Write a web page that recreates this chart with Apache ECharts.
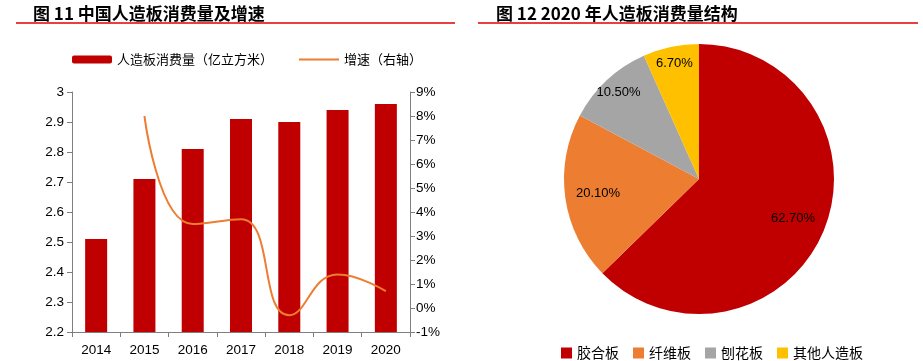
<!DOCTYPE html>
<html><head><meta charset="utf-8">
<script src="https://cdn.jsdelivr.net/npm/echarts@6/dist/echarts.min.js"></script>
<style>html,body{margin:0;padding:0;background:#fff}#c{width:923px;height:361px}</style>
</head><body><div id="c"></div>
<script>
const years = ['2014','2015','2016','2017','2018','2019','2020'];
const consumption = [2.51, 2.71, 2.81, 2.91, 2.90, 2.94, 2.96];
const growth = [null, 8.0, 3.5, 3.7, -0.3, 1.4, 0.7];
const pieNames = ['胶合板','纤维板','刨花板','其他人造板'];
const pieValues = [62.7, 20.1, 10.5, 6.7];
const pieColors = ['#C00000','#ED7D31','#A5A5A5','#FFC000'];
const barName = '人造板消费量（亿立方米）';
const lineName = '增速（右轴）';

const chart = echarts.init(document.getElementById('c'));
const cjk = '"Noto Sans CJK SC", sans-serif';
const latin = '"Liberation Sans", Arial, sans-serif';
const axisCol = '#7f7f7f';

function labelData(showIdx) {
  return pieNames.map((n, i) => ({
    name: n, value: pieValues[i],
    label: { show: showIdx.includes(i) }
  }));
}

const option = {
  animation: false,
  title: [
    { text: '图 11 中国人造板消费量及增速', left: 28, top: 0,
      textStyle: { fontFamily: cjk, fontSize: 17, fontWeight: 'bold', color: '#000' } },
    { text: '图 12 2020 年人造板消费量结构', left: 491, top: 0,
      textStyle: { fontFamily: cjk, fontSize: 17, fontWeight: 'bold', color: '#000' } }
  ],
  graphic: [
    { type: 'line', shape: { x1: 16, y1: 23, x2: 455, y2: 23 }, style: { stroke: '#E00000', lineWidth: 1.5 } },
    { type: 'line', shape: { x1: 478, y1: 23, x2: 918, y2: 23 }, style: { stroke: '#E00000', lineWidth: 1.5 } }
  ],
  legend: [
    { left: 67, top: 48, itemWidth: 40, itemHeight: 8, itemGap: 25,
      data: [barName, { name: lineName, itemStyle: { opacity: 0 } }],
      textStyle: { fontFamily: cjk, fontSize: 13, color: '#000' } },
    { left: 556, top: 341, itemWidth: 11, itemHeight: 11, itemGap: 14, icon: 'rect',
      data: pieNames.map((n, i) => ({ name: n, itemStyle: { color: pieColors[i] } })),
      textStyle: { fontFamily: cjk, fontSize: 14, color: '#000' }, selectedMode: false }
  ],
  grid: { left: 72, right: 513, top: 92, bottom: 29 },
  xAxis: {
    type: 'category', data: years,
    axisLine: { onZero: false, lineStyle: { color: axisCol } },
    axisTick: { show: true, alignWithLabel: false, length: 5, lineStyle: { color: axisCol } },
    axisLabel: { fontFamily: latin, fontSize: 13.5, color: '#000', margin: 11 }
  },
  yAxis: [
    { type: 'value', min: 2.2, max: 3, interval: 0.1,
      axisLine: { show: true, lineStyle: { color: axisCol } },
      axisTick: { show: true, length: 5, lineStyle: { color: axisCol } },
      splitLine: { show: false },
      axisLabel: { fontFamily: latin, fontSize: 13.5, color: '#000', margin: 8,
        formatter: v => String(Math.round(v * 10) / 10) } },
    { type: 'value', min: -1, max: 9, interval: 1, position: 'right',
      axisLine: { show: true, lineStyle: { color: axisCol } },
      axisTick: { show: true, length: 5, lineStyle: { color: axisCol } },
      splitLine: { show: false },
      axisLabel: { fontFamily: latin, fontSize: 13.5, color: '#000', margin: 6,
        formatter: v => Math.round(v) + '%' } }
  ],
  series: [
    { name: barName, type: 'bar', data: consumption, barWidth: 22,
      itemStyle: { color: '#C00000' } },
    { name: lineName, type: 'line', yAxisIndex: 1, data: growth, smooth: 0.5,
      symbol: 'none', connectNulls: false,
      lineStyle: { color: '#ED7D31', width: 2 }, itemStyle: { color: '#ED7D31' } },
    { name: 'pie', type: 'pie', center: [699, 179], radius: 135,
      startAngle: 90, clockwise: true, silent: true,
      data: pieNames.map((n, i) => ({ name: n, value: pieValues[i], itemStyle: { color: pieColors[i] } })),
      label: { show: false }, labelLine: { show: false } },
    { name: 'lbl1', type: 'pie', center: [699, 179], radius: [90, 108],
      startAngle: 90, silent: true, itemStyle: { color: 'transparent' },
      data: labelData([0, 1]),
      label: { position: 'inside', fontFamily: latin, fontSize: 13, color: '#000',
        formatter: p => p.value.toFixed(2) + '%' }, labelLine: { show: false } },
    { name: 'lbl2', type: 'pie', center: [699, 179], radius: [106, 124],
      startAngle: 90, silent: true, itemStyle: { color: 'transparent' },
      data: labelData([2, 3]),
      label: { position: 'inside', fontFamily: latin, fontSize: 13, color: '#000',
        formatter: p => p.value.toFixed(2) + '%' }, labelLine: { show: false } }
  ]
};
chart.setOption(option);
</script>
</body></html>
